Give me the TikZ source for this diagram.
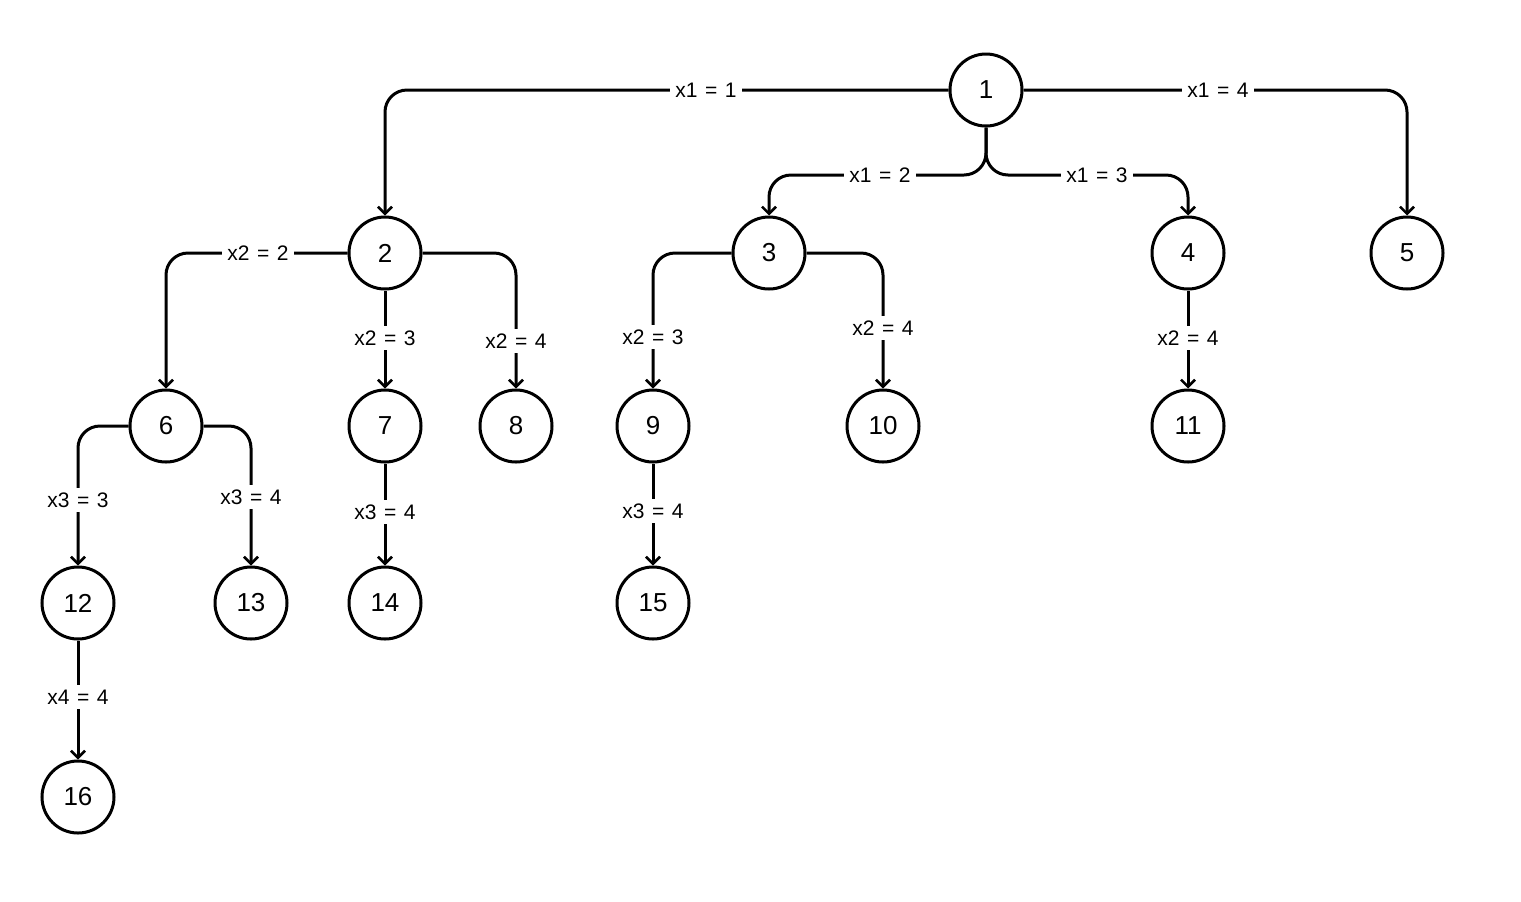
\documentclass[tikz,border=0pt]{standalone}
\usepackage{fontspec}
\setmainfont{Liberation Sans}
\usetikzlibrary{arrows.meta}
% branch condition: variable = value, with wide spacing round "="
\newcommand\cond[2]{#1\hspace{3.8pt}=\hspace{3.8pt}#2}
\begin{document}
\begin{tikzpicture}[x=0.5pt,y=-0.5pt,
  state/.style={circle,draw,line width=1.5pt,minimum size=36pt,inner sep=0pt,font=\fontsize{13}{15}\selectfont},
  edge/.style={line width=1.5pt,rounded corners=11pt,-{Straight Barb[length=3.5pt,width=7pt,line width=1.3pt]}},
  lbl/.style={fill=white,inner sep=2.5pt,font=\fontsize{10.5}{12}\selectfont}]
\useasboundingbox (0,0) rectangle (1521,901);
% tree nodes
\node[state] (n1) at (986,90) {1};
\node[state] (n2) at (385,253) {2};
\node[state] (n3) at (769,253) {3};
\node[state] (n4) at (1188,253) {4};
\node[state] (n5) at (1407,253) {5};
\node[state] (n6) at (166,426) {6};
\node[state] (n7) at (385,426) {7};
\node[state] (n8) at (516,426) {8};
\node[state] (n9) at (653,426) {9};
\node[state] (n10) at (883,426) {10};
\node[state] (n11) at (1188,426) {11};
\node[state] (n12) at (78,603) {12};
\node[state] (n13) at (251,603) {13};
\node[state] (n14) at (385,603) {14};
\node[state] (n15) at (653,603) {15};
\node[state] (n16) at (78,797) {16};
\coordinate (j1) at (986,175);
% branches
\draw[edge] (n1.west) -| (n2.north);
\draw[edge] (n1.east) -| (n5.north);
\draw[edge] (n1.south) -- (j1) -| (n3.north);
\draw[edge] (n1.south) -- (j1) -| (n4.north);
\draw[edge] (n2.west) -| (n6.north);
\draw[edge] (n2.south) -- (n7.north);
\draw[edge] (n2.east) -| (n8.north);
\draw[edge] (n3.west) -| (n9.north);
\draw[edge] (n3.east) -| (n10.north);
\draw[edge] (n4.south) -- (n11.north);
\draw[edge] (n6.west) -| (n12.north);
\draw[edge] (n6.east) -| (n13.north);
\draw[edge] (n7.south) -- (n14.north);
\draw[edge] (n9.south) -- (n15.north);
\draw[edge] (n12.south) -- (n16.north);
% branch labels
\node[lbl] (l12) at (706,90) {\cond{x1}{1}};
\node[lbl] (l15) at (1218,90) {\cond{x1}{4}};
\node[lbl] (l13) at (880,175) {\cond{x1}{2}};
\node[lbl] (l14) at (1097,175) {\cond{x1}{3}};
\node[lbl] (l26) at (258,253) {\cond{x2}{2}};
\node[lbl] (l27) at (385,338) {\cond{x2}{3}};
\node[lbl] (l28) at (516,341) {\cond{x2}{4}};
\node[lbl] (l39) at (653,337) {\cond{x2}{3}};
\node[lbl] (l310) at (883,328) {\cond{x2}{4}};
\node[lbl] (l411) at (1188,338) {\cond{x2}{4}};
\node[lbl] (l612) at (78,500) {\cond{x3}{3}};
\node[lbl] (l613) at (251,497) {\cond{x3}{4}};
\node[lbl] (l714) at (385,512) {\cond{x3}{4}};
\node[lbl] (l915) at (653,511) {\cond{x3}{4}};
\node[lbl] (l1216) at (78,697) {\cond{x4}{4}};
\end{tikzpicture}
\end{document}
